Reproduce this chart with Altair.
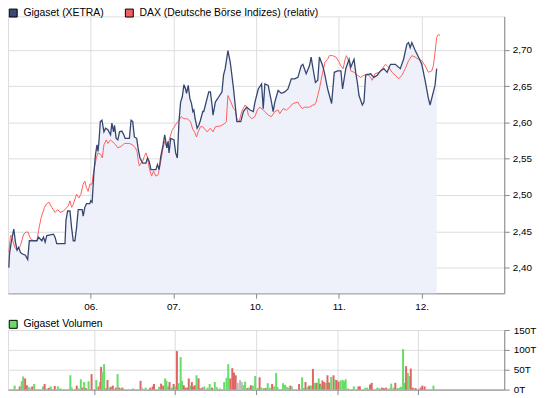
import json
import altair as alt
import pandas as pd

# ---------------- data ----------------
# time axis: trading days counted from the left edge (05.) ; 1 = 06., 2 = 07., 3 = 10., 4 = 11., 5 = 12.
day_labels = ["05.", "06.", "07.", "10.", "11.", "12."]
giga_name = "Gigaset (XETRA)"
dax_name = "DAX (Deutsche Börse Indizes) (relativ)"
vol_name = "Gigaset Volumen"

giga_t = [0.010, 0.018, 0.042, 0.070, 0.090, 0.110, 0.130, 0.150, 0.170, 0.210,
          0.238, 0.258, 0.350, 0.369, 0.409, 0.429, 0.449, 0.469, 0.549, 0.569,
          0.589, 0.689, 0.701, 0.721, 0.749, 0.769, 0.789, 0.809, 0.829, 0.849,
          0.897, 0.909, 0.929, 0.949, 0.989, 1.001, 1.017, 1.037, 1.057, 1.076,
          1.088, 1.100, 1.116, 1.136, 1.160, 1.180, 1.208, 1.240, 1.256, 1.276,
          1.288, 1.308, 1.328, 1.348, 1.376, 1.400, 1.416, 1.468, 1.488, 1.508,
          1.528, 1.556, 1.576, 1.596, 1.628, 1.668, 1.688, 1.708, 1.728, 1.788,
          1.807, 1.827, 1.847, 1.875, 1.895, 1.919, 1.935, 1.947, 1.967, 2.007,
          2.027, 2.047, 2.067, 2.087, 2.107, 2.127, 2.147, 2.159, 2.179, 2.199,
          2.219, 2.235, 2.247, 2.263, 2.287, 2.307, 2.327, 2.355,
          2.367, 2.427, 2.447, 2.467, 2.479, 2.507, 2.547, 2.587, 2.606, 2.626,
          2.659, 2.687, 2.707, 2.727, 2.747, 2.767, 2.814, 2.846, 2.886, 2.926,
          2.966, 2.986, 3.026, 3.066, 3.086, 3.106, 3.146, 3.186, 3.206, 3.226,
          3.266, 3.306, 3.346, 3.385, 3.425, 3.465, 3.505, 3.545, 3.565, 3.605,
          3.645, 3.665, 3.685, 3.717, 3.745, 3.765, 3.805, 3.825, 3.865, 3.913,
          3.945, 3.985, 4.025, 4.045, 4.084, 4.124, 4.144, 4.184, 4.204, 4.224,
          4.244, 4.284, 4.304, 4.324, 4.384, 4.424, 4.464, 4.504, 4.544, 4.584,
          4.624, 4.683, 4.743, 4.783, 4.823, 4.843, 4.863, 4.883, 4.923, 4.963,
          5.003, 5.043, 5.083, 5.103, 5.143, 5.163, 5.183]
giga_v = [2.400, 2.419, 2.437, 2.453, 2.435, 2.424, 2.428, 2.421, 2.419, 2.417,
          2.411, 2.437, 2.437, 2.442, 2.437, 2.442, 2.435, 2.444, 2.446, 2.442,
          2.433, 2.433, 2.465, 2.478, 2.478, 2.455, 2.437, 2.437, 2.455, 2.480,
          2.480, 2.471, 2.483, 2.488, 2.488, 2.492, 2.490, 2.528, 2.555, 2.569,
          2.560, 2.574, 2.601, 2.603, 2.587, 2.592, 2.590, 2.583, 2.599, 2.587,
          2.596, 2.578, 2.576, 2.587, 2.588, 2.583, 2.578, 2.578, 2.603, 2.601,
          2.580, 2.578, 2.562, 2.551, 2.544, 2.544, 2.551, 2.546, 2.535, 2.535,
          2.542, 2.535, 2.553, 2.569, 2.583, 2.565, 2.574, 2.558, 2.578, 2.576,
          2.558, 2.551, 2.601, 2.628, 2.635, 2.652, 2.646, 2.640, 2.651, 2.633,
          2.626, 2.615, 2.617, 2.605, 2.592, 2.596, 2.603, 2.615,
          2.615, 2.642, 2.642, 2.624, 2.610, 2.628, 2.635, 2.642, 2.665, 2.674,
          2.699, 2.683, 2.665, 2.646, 2.624, 2.601, 2.601, 2.615, 2.621, 2.617,
          2.615, 2.628, 2.646, 2.653, 2.619, 2.653, 2.651, 2.628, 2.615, 2.628,
          2.644, 2.640, 2.642, 2.646, 2.660, 2.660, 2.662, 2.678, 2.680, 2.667,
          2.678, 2.690, 2.676, 2.655, 2.658, 2.690, 2.678, 2.669, 2.646, 2.626,
          2.669, 2.671, 2.671, 2.646, 2.674, 2.687, 2.676, 2.687, 2.669, 2.655,
          2.637, 2.624, 2.628, 2.665, 2.667, 2.662, 2.665, 2.671, 2.674, 2.669,
          2.680, 2.680, 2.674, 2.687, 2.708, 2.710, 2.703, 2.710, 2.699, 2.690,
          2.680, 2.658, 2.633, 2.624, 2.642, 2.651, 2.674]

dax_t = [0.010, 0.030, 0.050, 0.058, 0.082, 0.110, 0.150, 0.190, 0.218, 0.242,
         0.270, 0.310, 0.350, 0.369, 0.401, 0.441, 0.469, 0.497, 0.529, 0.569,
         0.601, 0.629, 0.669, 0.689, 0.729, 0.749, 0.769, 0.789, 0.829, 0.857,
         0.881, 0.909, 0.929, 0.949, 0.969, 0.989, 1.017, 1.029, 1.049, 1.068,
         1.088, 1.120, 1.140, 1.160, 1.188, 1.208, 1.240, 1.256, 1.288, 1.328,
         1.368, 1.408, 1.468, 1.508, 1.540, 1.560, 1.576, 1.588, 1.608, 1.628,
         1.648, 1.668, 1.688, 1.708, 1.736, 1.760, 1.788, 1.815, 1.847, 1.875,
         1.895, 1.927, 1.959, 1.987, 2.007, 2.039, 2.067, 2.095, 2.127, 2.167,
         2.207, 2.235, 2.255, 2.279, 2.299, 2.327, 2.355,
         2.407, 2.447, 2.479, 2.507, 2.567, 2.626, 2.639, 2.659, 2.687, 2.727,
         2.747, 2.767, 2.794, 2.826, 2.866, 2.886, 2.906, 2.946, 2.986, 3.014,
         3.046, 3.086, 3.106, 3.146, 3.186, 3.226, 3.266, 3.286, 3.326, 3.366,
         3.405, 3.445, 3.505, 3.525, 3.557, 3.585, 3.645, 3.685, 3.705, 3.725,
         3.745, 3.765, 3.785, 3.805, 3.833, 3.865, 3.885, 3.925, 3.965, 4.004,
         4.024, 4.052, 4.076, 4.092, 4.124, 4.144, 4.184, 4.224, 4.264, 4.304,
         4.344, 4.384, 4.404, 4.436, 4.484, 4.524, 4.564, 4.604, 4.643, 4.683,
         4.723, 4.763, 4.803, 4.843, 4.883, 4.923, 4.963, 5.003, 5.043, 5.083,
         5.123, 5.143, 5.163, 5.183, 5.203, 5.223]
dax_v = [2.421, 2.444, 2.444, 2.437, 2.428, 2.424, 2.430, 2.446, 2.449, 2.449,
         2.440, 2.437, 2.437, 2.451, 2.469, 2.483, 2.488, 2.490, 2.483, 2.476,
         2.480, 2.476, 2.478, 2.480, 2.485, 2.492, 2.483, 2.487, 2.501, 2.496,
         2.501, 2.515, 2.519, 2.510, 2.505, 2.515, 2.515, 2.528, 2.540, 2.551,
         2.558, 2.556, 2.551, 2.569, 2.576, 2.571, 2.576, 2.574, 2.571, 2.565,
         2.567, 2.571, 2.571, 2.569, 2.565, 2.560, 2.546, 2.540, 2.544, 2.546,
         2.553, 2.558, 2.551, 2.537, 2.526, 2.533, 2.526, 2.528, 2.546, 2.565,
         2.574, 2.565, 2.580, 2.590, 2.593, 2.599, 2.603, 2.608, 2.605, 2.605,
         2.601, 2.590, 2.587, 2.580, 2.587, 2.594, 2.594,
         2.587, 2.592, 2.587, 2.594, 2.595, 2.599, 2.601, 2.637, 2.630, 2.619,
         2.617, 2.605, 2.601, 2.615, 2.624, 2.621, 2.610, 2.605, 2.608, 2.617,
         2.621, 2.617, 2.615, 2.610, 2.608, 2.615, 2.617, 2.612, 2.619, 2.617,
         2.621, 2.626, 2.628, 2.624, 2.619, 2.621, 2.621, 2.624, 2.624, 2.628,
         2.637, 2.646, 2.658, 2.669, 2.683, 2.687, 2.692, 2.692, 2.690, 2.683,
         2.678, 2.674, 2.687, 2.692, 2.683, 2.671, 2.669, 2.665, 2.662, 2.665,
         2.667, 2.662, 2.658, 2.667, 2.669, 2.674, 2.680, 2.676, 2.669, 2.665,
         2.660, 2.665, 2.674, 2.685, 2.692, 2.690, 2.687, 2.685, 2.678, 2.669,
         2.671, 2.678, 2.696, 2.717, 2.721, 2.720]

# volume in thousands of shares (T); u = up, d = down, f = unchanged
vol_t = [0.021, 0.083, 0.108, 0.125, 0.150, 0.171, 0.192, 0.212, 0.237, 0.262,
         0.371, 0.391, 0.425, 0.445, 0.466, 0.516, 0.554, 0.587, 0.708, 0.724,
         0.787, 0.808, 0.837, 0.858, 0.878, 0.899, 0.933, 0.970, 1.028, 1.057,
         1.074, 1.087, 1.099, 1.124, 1.145, 1.166, 1.182, 1.207, 1.232, 1.270,
         1.291, 1.311, 1.328, 1.349, 1.482, 1.574, 1.594, 1.636, 1.694, 1.724,
         1.740, 1.803, 1.828, 1.853, 1.878, 1.894, 1.915, 1.932, 1.961, 1.982,
         2.002, 2.023, 2.044, 2.069, 2.086, 2.107, 2.127, 2.152, 2.169, 2.190,
         2.207, 2.223, 2.244, 2.265, 2.290, 2.311, 2.336, 2.361, 2.402, 2.427,
         2.456, 2.490, 2.515, 2.552, 2.606, 2.635, 2.656, 2.681, 2.706, 2.727,
         2.748, 2.773, 2.802, 2.823, 2.843, 2.864, 2.893, 2.914, 2.935, 2.960,
         2.989, 3.018, 3.043, 3.064, 3.093, 3.118, 3.143, 3.168, 3.197, 3.222,
         3.247, 3.264, 3.331, 3.356, 3.376, 3.397, 3.422, 3.439, 3.530, 3.568,
         3.589, 3.609, 3.635, 3.655, 3.676, 3.701, 3.726, 3.747, 3.772, 3.788,
         3.801, 3.818, 3.838, 3.859, 3.880, 3.901, 3.926, 3.955, 3.976, 3.993,
         4.017, 4.042, 4.067, 4.084, 4.105, 4.134, 4.205, 4.263, 4.280, 4.346,
         4.371, 4.405, 4.426, 4.496, 4.517, 4.550, 4.575, 4.605, 4.646, 4.667,
         4.696, 4.717, 4.746, 4.771, 4.788, 4.813, 4.834, 4.850, 4.871, 4.892,
         4.908, 4.933, 4.967, 5.029, 5.050, 5.079, 5.188]
vol_k = [10, 8, 21, 33, 28, 11, 7, 5, 8, 14,
         8, 14, 3, 4, 8, 9, 8, 3, 36, 5,
         10, 3, 26, 5, 19, 4, 21, 39, 24, 8,
         19, 57, 44, 64, 3, 24, 5, 7, 10, 5,
         39, 5, 3, 5, 3, 22, 5, 5, 5, 8,
         14, 7, 15, 10, 28, 22, 8, 19, 5, 14,
         8, 97, 16, 82, 22, 11, 5, 5, 28, 10,
         19, 8, 11, 36, 28, 3, 5, 8, 5, 14,
         5, 19, 6, 3, 19, 30, 64, 28, 54, 43,
         36, 17, 24, 19, 11, 20, 4, 5, 11, 10,
         34, 4, 31, 5, 4, 4, 16, 5, 14, 8,
         42, 6, 16, 12, 7, 5, 10, 8, 14, 31,
         4, 19, 7, 10, 10, 52, 17, 17, 28, 15,
         9, 23, 19, 17, 36, 18, 32, 36, 25, 24,
         20, 23, 24, 21, 26, 3, 8, 8, 8, 4,
         5, 13, 17, 5, 3, 5, 4, 5, 3, 15,
         5, 17, 4, 5, 7, 102, 17, 59, 42, 34,
         53, 5, 4, 5, 10, 8, 10]
vol_dir = list("uduudduf" "du" "udududuuuu" "duudududud" "uduuddudd" "d"
               "udududfudd" "dudduuudud" "uduuudddd" "u" "ddduddduuu"
               "duuuuuuddd" "dfffuududu" "uuduuduudu" "uuuuuududu"
               "ududududud" "udduddudud" "duuuuuuddu" "udduuddduu"
               "uduuuuuduu" "dddddd" "u")

assert len(giga_t) == len(giga_v)
assert len(dax_t) == len(dax_v)
assert len(vol_t) == len(vol_k) == len(vol_dir)

# ---------------- tables ----------------
giga = pd.DataFrame({"t": giga_t, "v": giga_v, "s": giga_name})
dax = pd.DataFrame({"t": dax_t, "v": dax_v, "s": dax_name})
both = pd.concat([giga, dax], ignore_index=True)
vol = pd.DataFrame({"t": vol_t, "k": vol_k, "d": vol_dir})

# ---------------- styling ----------------
FONT = "Liberation Sans"
YMIN, YMAX = 2.3646, 2.746
W = 500
label_js = json.dumps(day_labels)

xscale = alt.Scale(domain=[0, 6], nice=False, zero=False)
xaxis = alt.Axis(values=[1, 2, 3, 4, 5], labelExpr=f"{label_js}[datum.value]",
                 grid=True, labelPadding=3, title=None)
xaxis_vol = alt.Axis(values=[1, 2, 3, 4, 5], labels=False, grid=True, title=None)

pscale = alt.Scale(domain=[YMIN, YMAX], nice=False, zero=False)
paxis = alt.Axis(orient="right", values=[2.40, 2.45, 2.50, 2.55, 2.60, 2.65, 2.70],
                 labelExpr="replace(format(datum.value, '.2f'), '.', ',')",
                 grid=True, labelPadding=3, title=None)


def make_legend(y_off, **kw):
    return alt.Legend(orient="none", legendX=0, legendY=y_off, direction="horizontal",
                      title=None, symbolType="square", symbolSize=64,
                      symbolStrokeColor="#000000", symbolStrokeWidth=1,
                      labelFont=FONT, labelFontSize=10.5, labelColor="#000000",
                      labelLimit=0, labelOffset=5, padding=0, offset=0, **kw)


X = alt.X("t:Q", scale=xscale, axis=xaxis)
Y = alt.Y("v:Q", scale=pscale, axis=paxis)

legend_layer = alt.Chart(both).transform_filter("datum.v < 0").mark_square(
    filled=True, size=64, stroke="#000000", strokeWidth=1, opacity=1
).encode(
    x=X, y=Y,
    color=alt.Color("s:N", scale=alt.Scale(domain=[giga_name, dax_name],
                                           range=["#3b4a74", "#f06060"]),
                    legend=make_legend(-9, columnPadding=19)),
)

area = alt.Chart(giga).mark_area(color="#eef1fa").encode(x=X, y=Y, y2=alt.datum(YMIN))
dax_line = alt.Chart(dax).mark_line(color="#ff5f5f", strokeWidth=1).encode(x=X, y=Y)
giga_line = alt.Chart(giga).mark_line(color="#36466f", strokeWidth=1.3).encode(x=X, y=Y)

price = alt.layer(legend_layer, area, dax_line, giga_line).properties(width=W, height=279)

volume = alt.Chart(vol).mark_bar(size=2).encode(
    x=alt.X("t:Q", scale=xscale, axis=xaxis_vol),
    y=alt.Y("k:Q", scale=alt.Scale(domain=[0, 150], nice=False),
            axis=alt.Axis(orient="right", values=[0, 50, 100, 150],
                          labelExpr="datum.value + 'T'", grid=True,
                          labelPadding=4, title=None)),
    color=alt.Color("d:N", scale=alt.Scale(domain=["u", "d", "f"],
                                           range=["#66dd66", "#e06666", "#bbbbbb"]),
                    legend=make_legend(-11, values=["u"], labelExpr=f"'{vol_name}'")),
).properties(width=W, height=60)

chart = alt.vconcat(price, volume, spacing=6).resolve_scale(
    color="independent"
).resolve_legend(
    color="independent"
).properties(
    padding={"left": -3, "top": -3, "right": 0, "bottom": 0}
).configure_view(
    stroke="#cccccc", strokeWidth=1
).configure_axis(
    gridColor="#dddddd", gridWidth=1, ticks=False, domain=False,
    labelFont=FONT, labelFontSize=11, labelColor="#000000"
).configure(background="#ffffff")

chart.save("out.html", embed_options={"renderer": "svg", "actions": False})
